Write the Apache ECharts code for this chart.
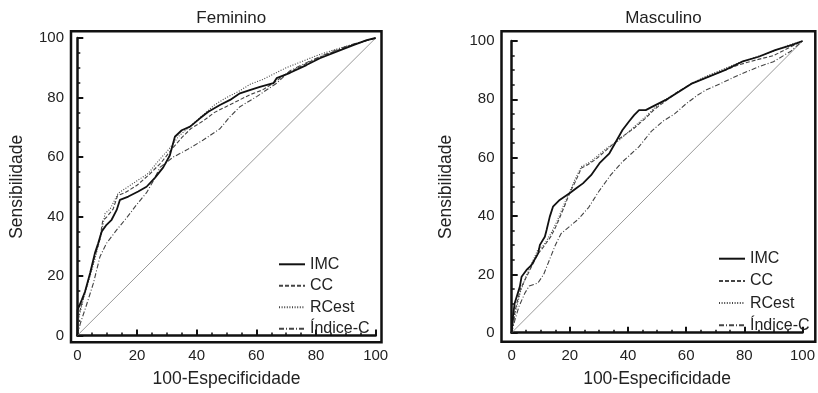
<!DOCTYPE html>
<html>
<head>
<meta charset="utf-8">
<script src="https://cdn.jsdelivr.net/npm/echarts@6/dist/echarts.min.js"></script>
<style>
html,body{margin:0;padding:0;background:#fff;}
#c{width:818px;height:393px;}
</style>
</head>
<body>
<div id="c"></div>
<script>
// ---- Data (x = 100-Especificidade, y = Sensibilidade) ----
const panelTitles = ['Feminino', 'Masculino'];
const seriesNames = ['IMC', 'CC', 'RCest', 'Índice-C'];
const referenceLine = [[0, 0], [100, 100]];

const femIMC = [[0,0],[0.1,8.6],[1.5,12],[2.6,14.8],[4.3,21],[5.9,27.7],[7,31],[8.2,35],[9.8,37.2],[11.5,38.9],[13.2,42.2],[14.3,45.6],[17.1,46.7],[20.4,48.4],[23.2,50],[26,53],[28.8,56.5],[31,60.5],[32.7,66.8],[35,69],[37.8,70.2],[41.1,73],[43.9,75.2],[47.8,77.5],[51.2,79.2],[54.5,81.4],[57.8,82.5],[61.2,83.6],[65.7,84.8],[66.8,86.5],[71.3,88.3],[76.8,90.9],[81.3,93.2],[86.9,95.4],[92.5,97.6],[97,99.3],[100,100]];
const femCC = [[0,0],[0.5,7],[2,12.5],[4,19.5],[6,27],[7.5,32],[8.5,38.5],[10,40],[12,42.5],[13.5,47],[16,48],[20,50.5],[24,54],[28,58],[32,63],[35,66.5],[38,69.5],[42,72],[46,75],[50,77],[54,79],[58,81],[62,82.5],[66,85],[70,88],[75,90.5],[80,93],[85,95],[90,97],[95,98.5],[100,100]];
const femRCest = [[0,0],[0.5,6],[2,12],[4,19],[6,26],[8,34],[9.3,41],[11,42.5],[13.7,47.8],[18.8,51.2],[23.8,54.5],[27,58.5],[30.5,62.4],[34,67],[38,70.5],[42,74],[46,77.5],[50,80],[54,82],[58,84.5],[62,86],[66,88],[70,90],[75,92],[80,94],[85,95.7],[90,97.2],[95,98.7],[100,100]];
const femIndiceC = [[0,0],[1,4],[3,10],[5.4,17.6],[7.6,26.5],[9.8,31],[13.2,35.5],[16.5,39.5],[19.9,44],[23.2,48],[25.5,52],[27.7,56.5],[32.2,60],[36.7,62.4],[42.2,65.7],[47.8,69.5],[51.2,73.6],[54.5,76.9],[60.1,80.3],[66.8,84.8],[71.3,89],[78,92.3],[85.8,95.6],[92,97.8],[100,100]];

const mascIMC = [[0,0],[0.3,4.5],[1,10],[2.8,15.8],[3.4,19.2],[5.1,21.5],[6.8,23.2],[9.1,27.2],[9.7,30.1],[11.4,32.9],[12,35.2],[13.1,39.8],[14.2,43.2],[16.5,45.5],[19.9,47.8],[22.2,49.5],[24.5,51.2],[27.3,54],[30.2,58.1],[33.6,61.5],[35.3,64.5],[38.1,69.5],[40.4,72.5],[42.1,74.6],[43.8,76.3],[46.1,76.3],[48.4,77.5],[53,79.8],[57.5,82.6],[62.1,85.5],[67.8,87.8],[73.5,90.1],[79.2,92.9],[84.9,94.6],[90.6,96.9],[96.2,98.6],[100,100]];
const mascCC = [[0,0],[0.5,4],[1.5,9],[3,15],[5,19],[7,23],[9,27],[11,29.5],[13.5,33],[15.5,37],[18,43],[20,48],[22,52],[24,56.5],[26,57.5],[29,59.5],[33,63],[37,66.5],[42,70],[46,73.5],[49,76.5],[53,79.5],[57,82.5],[62,85.5],[67,87.5],[72,89.5],[78,91.8],[84,93.5],[90,95],[95,97.5],[100,100]];
const mascRCest = [[0,0],[0.5,3],[1.5,8],[3,14],[5,19.5],[7,24],[9,28.5],[11,30],[13.5,34],[15.5,38],[18,44],[20,48.5],[22,53],[24,57],[27,58.5],[30,61],[33,63.5],[37,66],[42,70.5],[46,74],[49,77],[53,80],[57,82.5],[62,85.5],[67,88],[72,90],[78,92.5],[84,94.5],[90,96.5],[95,98.5],[100,100]];
const mascIndiceC = [[0,0],[1,4],[2.5,9],[4.5,13.5],[6,16],[9,17],[11,20],[13,25],[15,30],[17,34],[20,36.5],[23,39],[26.5,43],[30,48.5],[34,54],[38,58.5],[43.8,63.8],[48,69],[52,72.5],[56,75],[60,78.5],[64,81.5],[67,83.3],[72,85.5],[78,88.3],[85,91.2],[90,92.9],[96,96.5],[100,100]];

const panelData = [
  [femIMC, femCC, femRCest, femIndiceC],
  [mascIMC, mascCC, mascRCest, mascIndiceC]
];

// ---- Layout / style ----
const FONT = 'Liberation Sans, Arial, sans-serif';
const TXT = '#222';
const panels = [
  { grid: {left: 77.3, top: 38, width: 298.4, height: 297.7}, frame: {x: 71, y: 31.3, w: 310.5, h: 311}, xOff: 6.5, yOff: 6.3, yGap: 45, legend: {left: 273, top: 251.3, gap: 5.5} },
  { grid: {left: 511.7, top: 41, width: 292.6, height: 291.7}, frame: {x: 501.5, y: 31.3, w: 313.8, h: 310.4}, xOff: 9.2, yOff: 10.2, yGap: 46, legend: {left: 713, top: 245.7, gap: 6.2} }
];
const styles = [
  {color: '#111', width: 1.8, type: 'solid'},
  {color: '#444', width: 1.1, type: [4, 2]},
  {color: '#444', width: 1.1, type: [1, 1.6]},
  {color: '#444', width: 1.1, type: [5, 2, 1, 2]}
];

const grids = [], xAxes = [], yAxes = [], series = [], titles = [], legends = [], graphics = [];

panels.forEach((p, i) => {
  grids.push(Object.assign({containLabel: false}, p.grid));
  const axisCommon = {
    gridIndex: i, type: 'value', min: 0, max: 100, interval: 20,
    axisLine: {show: true, lineStyle: {color: '#111', width: 2.5}},
    axisTick: {show: true, inside: true, length: 6, lineStyle: {color: '#111', width: 2}},
    minorTick: {show: true, splitNumber: 4, length: 3, lineStyle: {color: '#111', width: 1.5}},
    splitLine: {show: false},
    nameLocation: 'middle',
    nameTextStyle: {fontSize: 17.5, color: TXT, fontFamily: FONT}
  };
  xAxes.push(Object.assign({}, axisCommon, {
    position: 'bottom', offset: p.xOff,
    name: '100-Especificidade', nameGap: 28,
    axisLabel: {margin: 6, fontSize: 15, color: TXT, fontFamily: FONT}
  }));
  yAxes.push(Object.assign({}, axisCommon, {
    position: 'left', offset: p.yOff,
    name: 'Sensibilidade', nameGap: p.yGap,
    axisLabel: {margin: 7, fontSize: 15, color: TXT, fontFamily: FONT}
  }));
  titles.push({
    text: panelTitles[i],
    left: p.frame.x + p.frame.w / 2, top: 5, textAlign: 'center',
    textStyle: {fontSize: 17, fontWeight: 'normal', color: TXT, fontFamily: FONT}
  });
  graphics.push({
    type: 'rect', z: 100, silent: true,
    shape: {x: p.frame.x, y: p.frame.y, width: p.frame.w, height: p.frame.h},
    style: {fill: 'none', stroke: '#111', lineWidth: 2.5}
  });
  series.push({
    type: 'line', name: 'ref' + i, xAxisIndex: i, yAxisIndex: i,
    data: referenceLine, symbol: 'none', clip: false, silent: true,
    lineStyle: {color: '#999', width: 1}
  });
  for (let k = 3; k >= 0; k--) {
    series.push({
      type: 'line', name: seriesNames[k], xAxisIndex: i, yAxisIndex: i,
      data: panelData[i][k], symbol: 'none', clip: false,
      lineStyle: styles[k], itemStyle: {color: styles[k].color},
      z: 3 + (3 - k)
    });
  }
  legends.push({
    data: seriesNames, orient: 'vertical',
    left: p.legend.left, top: p.legend.top, itemGap: p.legend.gap,
    itemWidth: 26, itemHeight: 14, selectedMode: false,
    itemStyle: {opacity: 0, borderWidth: 0},
    textStyle: {fontSize: 16, color: TXT, fontFamily: FONT}
  });
});

const chart = echarts.init(document.getElementById('c'), null, {renderer: 'canvas'});
chart.setOption({
  animation: false,
  backgroundColor: '#fff',
  title: titles,
  grid: grids,
  xAxis: xAxes,
  yAxis: yAxes,
  legend: legends,
  series: series,
  graphic: graphics
});
</script>
</body>
</html>
